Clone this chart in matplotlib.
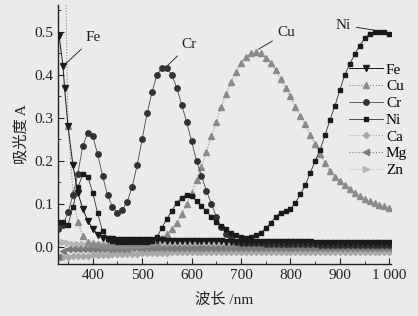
import matplotlib
matplotlib.use('Agg')
import matplotlib.pyplot as plt
from matplotlib.ticker import MultipleLocator, FuncFormatter

plt.rcParams['font.family'] = ['Liberation Serif', 'Noto Sans CJK SC']

# wavelengths (nm), 10 nm step
wl = list(range(330, 1001, 10))

fe_wl = [332, 340, 343] + list(range(350, 1001, 10))
fe = [0.49, 0.42, 0.37, 0.28, 0.19, 0.125, 0.088, 0.06, 0.042, 0.028, 0.02,
      0.018, 0.017, 0.016, 0.016, 0.015, 0.015, 0.015, 0.015, 0.015, 0.015,
      0.015, 0.015, 0.014, 0.014, 0.014, 0.014, 0.014, 0.014, 0.014, 0.013,
      0.013, 0.013, 0.013, 0.013, 0.012, 0.012, 0.012, 0.012, 0.012, 0.011,
      0.011, 0.011, 0.011, 0.011, 0.010, 0.010, 0.010, 0.010, 0.010, 0.010,
      0.010, 0.010, 0.009, 0.009, 0.009, 0.009, 0.009, 0.009, 0.009, 0.009,
      0.009, 0.009, 0.009, 0.009, 0.009, 0.009, 0.009, 0.009]

# first two Cu readings are off scale
cu = [1.2, 1.0, 0.28, 0.125, 0.058, 0.025, 0.012, 0.008, 0.006, 0.005,
      0.005, 0.005, 0.005, 0.005, 0.005, 0.005, 0.005, 0.006, 0.007, 0.009,
      0.012, 0.02, 0.03, 0.042, 0.056, 0.077, 0.10, 0.125, 0.155, 0.186,
      0.22, 0.258, 0.29, 0.326, 0.356, 0.384, 0.407, 0.428, 0.442, 0.45,
      0.453, 0.45, 0.44, 0.428, 0.41, 0.39, 0.37, 0.35, 0.325, 0.305,
      0.285, 0.26, 0.238, 0.215, 0.195, 0.175, 0.162, 0.152, 0.143, 0.135,
      0.125, 0.119, 0.112, 0.106, 0.101, 0.098, 0.094, 0.09]

cr = [0.04, 0.05, 0.08, 0.12, 0.17, 0.235, 0.265, 0.258, 0.215, 0.165,
      0.12, 0.093, 0.078, 0.085, 0.105, 0.14, 0.19, 0.25, 0.31, 0.36,
      0.40, 0.415, 0.415, 0.40, 0.37, 0.33, 0.29, 0.245, 0.20, 0.165,
      0.13, 0.10, 0.07, 0.045, 0.03, 0.02, 0.012, 0.009, 0.008, 0.008,
      0.008, 0.008, 0.007, 0.007, 0.007, 0.007, 0.007, 0.006, 0.006, 0.006,
      0.006, 0.006, 0.006, 0.005, 0.005, 0.005, 0.005, 0.005, 0.005, 0.005,
      0.005, 0.005, 0.005, 0.005, 0.005, 0.005, 0.005, 0.005]

ni = [0.058, 0.058, 0.05, 0.093, 0.138, 0.168, 0.163, 0.126, 0.078, 0.036,
      0.018, 0.013, 0.012, 0.012, 0.012, 0.012, 0.012, 0.012, 0.012, 0.013,
      0.023, 0.044, 0.065, 0.084, 0.102, 0.114, 0.121, 0.117, 0.107, 0.095,
      0.082, 0.07, 0.058, 0.048, 0.04, 0.032, 0.026, 0.022, 0.021, 0.023,
      0.026, 0.032, 0.043, 0.055, 0.07, 0.079, 0.082, 0.088, 0.102, 0.122,
      0.143, 0.172, 0.20, 0.226, 0.26, 0.295, 0.328, 0.365, 0.40, 0.425,
      0.448, 0.468, 0.485, 0.495, 0.50, 0.50, 0.50, 0.495]

ca = [-0.024, -0.023, -0.023, -0.022, -0.022, -0.021, -0.021, -0.020, -0.020,
      -0.019, -0.019, -0.018, -0.018, -0.017, -0.017, -0.016, -0.016, -0.015,
      -0.015, -0.015, -0.014, -0.014, -0.014, -0.013, -0.013, -0.013, -0.013,
      -0.012, -0.012, -0.012, -0.012, -0.012, -0.012, -0.012, -0.012, -0.012,
      -0.012, -0.012, -0.012, -0.012, -0.012, -0.012, -0.012, -0.012, -0.012,
      -0.012, -0.012, -0.012, -0.012, -0.012, -0.012, -0.012, -0.012, -0.012,
      -0.012, -0.012, -0.012, -0.012, -0.012, -0.012, -0.012, -0.012, -0.012,
      -0.012, -0.012, -0.012, -0.012, -0.012]

mg = [-0.025, -0.010, -0.006, -0.006, -0.006, -0.006, -0.006, -0.006, -0.006,
      -0.006, -0.005, -0.005, -0.005, -0.005, -0.005, -0.004, -0.004, -0.004,
      -0.004, -0.004, -0.004, -0.004, -0.003, -0.003, -0.003, -0.003, -0.003,
      -0.003, -0.003, -0.003, -0.003, -0.003, -0.003, -0.003, -0.003, -0.003,
      -0.003, -0.003, -0.003, -0.003, -0.003, -0.003, -0.003, -0.003, -0.003,
      -0.003, -0.003, -0.003, -0.003, -0.003, -0.003, -0.003, -0.003, -0.003,
      -0.003, -0.003, -0.003, -0.003, -0.003, -0.003, -0.003, -0.003, -0.003,
      -0.003, -0.003, -0.003, -0.003, -0.003]

zn = [0.012, 0.010, 0.008, 0.007, 0.006, 0.006, 0.005, 0.005, 0.005, 0.005,
      0.005, 0.005, 0.005, 0.005, 0.005, 0.005, 0.005, 0.005, 0.005, 0.005,
      0.005, 0.005, 0.005, 0.005, 0.005, 0.005, 0.005, 0.005, 0.005, 0.005,
      0.005, 0.005, 0.005, 0.005, 0.005, 0.005, 0.005, 0.005, 0.005, 0.005,
      0.005, 0.005, 0.005, 0.005, 0.005, 0.005, 0.005, 0.005, 0.005, 0.005,
      0.005, 0.005, 0.005, 0.005, 0.005, 0.005, 0.005, 0.005, 0.005, 0.005,
      0.005, 0.005, 0.005, 0.005, 0.005, 0.005, 0.005, 0.005]

bg = '#ebebeb'
fig = plt.figure(figsize=(4.18, 3.16), dpi=100, facecolor=bg)
ax = fig.add_axes([0.139, 0.165, 0.796, 0.82])
ax.set_facecolor(bg)

ms = 3.9
ax.plot(wl, zn, ls=':', lw=0.8, color='#b5b5b5', marker='>', ms=ms,
        mec='#b5b5b5', label='Zn', zorder=2)
ax.plot(wl, ca, ls=':', lw=0.8, color='#a8a8a8', marker='D', ms=3.1,
        mec='#a8a8a8', label='Ca', zorder=2)
ax.plot(wl, mg, ls=':', lw=0.8, color='#7a7a7a', marker='<', ms=ms,
        mec='#7a7a7a', label='Mg', zorder=2)
ax.plot(wl, cu, ls=':', lw=0.8, color='#8a8a8a', marker='^', ms=ms,
        mec='#8a8a8a', label='Cu', zorder=3)
ax.plot(wl, cr, ls='-', lw=0.6, color='#4a4a4a', marker='o', ms=ms,
        mec='#333333', mfc='#333333', label='Cr', zorder=4)
ax.plot(wl, ni, ls='-', lw=0.6, color='#333333', marker='s', ms=3.4,
        mec='#1a1a1a', mfc='#1a1a1a', label='Ni', zorder=4)
ax.plot(fe_wl, fe, ls='-', lw=0.7, color='#1a1a1a', marker='v', ms=ms,
        mec='#1a1a1a', mfc='#1a1a1a', label='Fe', zorder=5)

ax.set_xlim(330, 1003)
ax.set_ylim(-0.04, 0.563)

ax.xaxis.set_major_locator(MultipleLocator(100))
ax.xaxis.set_minor_locator(MultipleLocator(50))
ax.yaxis.set_major_locator(MultipleLocator(0.1))
ax.yaxis.set_minor_locator(MultipleLocator(0.05))
ax.xaxis.set_major_formatter(FuncFormatter(
    lambda v, p: '1 000' if abs(v - 1000) < 1 else '%d' % v))
ax.yaxis.set_major_formatter(FuncFormatter(lambda v, p: '%.1f' % v))
ax.tick_params(which='both', direction='in', labelsize=11, colors='#222222')
ax.tick_params(which='major', length=4, width=0.8)
ax.tick_params(which='minor', length=2, width=0.6)
for s in ['top', 'right']:
    ax.spines[s].set_visible(False)
for s in ['left', 'bottom']:
    ax.spines[s].set_linewidth(1.0)
    ax.spines[s].set_color('#222222')

ax.set_xlabel('波长 /nm', fontsize=11, labelpad=8, color='#222222')
ax.set_ylabel('吸光度 A', fontsize=11, labelpad=4, color='#222222')

# peak labels
kw = dict(fontsize=11, color='#222222', va='center',
          arrowprops=dict(arrowstyle='-', lw=0.7, color='#333333'))
ax.annotate('Fe', xy=(340, 0.42), xytext=(386, 0.486), ha='left', **kw)
ax.annotate('Cr', xy=(548, 0.418), xytext=(580, 0.47), ha='left', **kw)
ax.annotate('Cu', xy=(730, 0.456), xytext=(774, 0.498), ha='left', **kw)
ax.annotate('Ni', xy=(975, 0.503), xytext=(922, 0.515), ha='right', **kw)

h, l = ax.get_legend_handles_labels()
order = ['Fe', 'Cu', 'Cr', 'Ni', 'Ca', 'Mg', 'Zn']
hd = dict(zip(l, h))
ax.legend([hd[k] for k in order], order, loc='upper left',
          bbox_to_anchor=(0.875, 0.775), frameon=False, fontsize=11,
          handlelength=2.2, handletextpad=0.2, labelspacing=0.2,
          borderpad=0, borderaxespad=0)

fig.savefig('out.png', dpi=100, facecolor=bg)
